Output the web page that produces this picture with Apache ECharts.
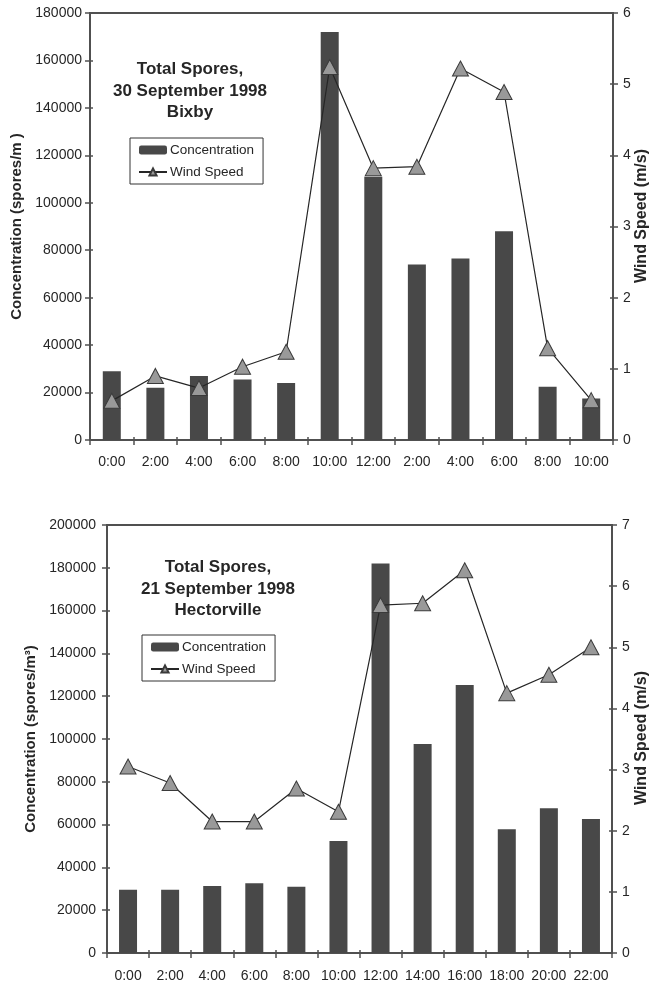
<!DOCTYPE html>
<html>
<head>
<meta charset="utf-8">
<script src="https://cdn.jsdelivr.net/npm/echarts@6/dist/echarts.min.js"></script>
<style>
  html, body { margin: 0; padding: 0; background: #fff; }
  #chart { width: 650px; height: 985px; }
</style>
</head>
<body>
<div id="chart"></div>
<script>
// Bixby, 30 September 1998
const bixbyHours = ['0:00', '2:00', '4:00', '6:00', '8:00', '10:00', '12:00', '2:00', '4:00', '6:00', '8:00', '10:00'];
const bixbyConcentration = [29000, 22000, 27000, 25500, 24000, 172000, 111000, 74000, 76500, 88000, 22500, 17500];
const bixbyWind = [0.55, 0.9, 0.73, 1.03, 1.24, 5.24, 3.82, 3.84, 5.22, 4.89, 1.29, 0.56];

// Hectorville, 21 September 1998
const hectHours = ['0:00', '2:00', '4:00', '6:00', '8:00', '10:00', '12:00', '14:00', '16:00', '18:00', '20:00', '22:00'];
const hectConcentration = [29500, 29500, 31300, 32600, 31000, 52300, 182000, 97700, 125200, 57800, 67600, 62600];
const hectWind = [3.05, 2.78, 2.15, 2.15, 2.69, 2.31, 5.69, 5.72, 6.26, 4.25, 4.55, 5.0];

const FONT = '"Liberation Sans", Arial, Helvetica, sans-serif';
const INK = '#262626';
const AXIS = '#505050';
const BAR = '#484848';

const chart = echarts.init(document.getElementById('chart'), null, { renderer: 'canvas' });

function valueAxis(grid, pos, max, interval, name, gap, margin) {
  return {
    type: 'value', gridIndex: grid, position: pos, min: 0, max: max, interval: interval,
    name: name, nameLocation: 'middle', nameGap: gap, nameRotate: 90,
    nameTextStyle: { fontFamily: FONT, fontWeight: 'bold', fontSize: 15, color: INK },
    axisLine: { show: true, lineStyle: { color: AXIS, width: 2 } },
    axisTick: { show: true, length: 5, lineStyle: { color: AXIS, width: 1.5 } },
    axisLabel: { fontFamily: FONT, fontSize: 14, color: INK, margin: margin, formatter: v => String(v) },
    splitLine: { show: false }
  };
}

// second copy of a value axis that only draws the inner half of each tick
function innerTicks(grid, pos, max, interval) {
  return {
    type: 'value', gridIndex: grid, position: pos, min: 0, max: max, interval: interval,
    axisLine: { show: false },
    axisTick: { show: true, inside: true, length: 3, lineStyle: { color: AXIS, width: 1.5 } },
    axisLabel: { show: false },
    splitLine: { show: false }
  };
}

function catAxis(grid, data, margin) {
  return {
    type: 'category', gridIndex: grid, data: data, boundaryGap: true,
    axisLine: { show: true, onZero: false, lineStyle: { color: AXIS, width: 2 } },
    axisTick: { show: true, length: 5, alignWithLabel: false, lineStyle: { color: AXIS, width: 1.5 } },
    axisLabel: { fontFamily: FONT, fontSize: 14, color: INK, margin: margin, interval: 0 }
  };
}

function catInnerTicks(grid, data) {
  return {
    type: 'category', gridIndex: grid, data: data, boundaryGap: true, position: 'bottom',
    axisLine: { show: false, onZero: false },
    axisTick: { show: true, inside: true, length: 3, lineStyle: { color: AXIS, width: 1.5 } },
    axisLabel: { show: false }
  };
}

function barSeries(x, y, data) {
  return {
    name: 'Concentration', type: 'bar', xAxisIndex: x, yAxisIndex: y, data: data,
    barWidth: 18, itemStyle: { color: BAR }, z: 2
  };
}

function lineSeries(x, y, data) {
  return {
    name: 'Wind Speed', type: 'line', xAxisIndex: x, yAxisIndex: y, data: data,
    symbol: 'triangle', symbolSize: [16, 15],
    lineStyle: { color: INK, width: 1.2 },
    itemStyle: { color: '#999999', borderColor: '#3a3a3a', borderWidth: 1 },
    z: 3
  };
}

function legendBox(left, top) {
  return {
    data: ['Concentration', 'Wind Speed'],
    orient: 'vertical', left: left, top: top,
    itemWidth: 28, itemHeight: 9, itemGap: 8,
    borderColor: '#333', borderWidth: 1, padding: [5, 9, 5, 8],
    textStyle: { fontFamily: FONT, fontSize: 13.5, color: INK, padding: [0, 0, 0, -2] },
    selectedMode: false
  };
}

function heading(x, y, text) {
  return {
    type: 'text', x: x, y: y,
    style: { text: text, font: 'bold 17px ' + FONT, fill: INK, align: 'center', lineHeight: 21.5 }
  };
}

// right-hand axis title, read bottom to top
function sideTitle(x, y, text) {
  return {
    type: 'text', x: x, y: y, rotation: Math.PI / 2,
    style: { text: text, font: 'bold 16px ' + FONT, fill: INK, align: 'center', verticalAlign: 'middle' }
  };
}

chart.setOption({
  animation: false,
  backgroundColor: '#fff',
  grid: [
    { left: 90, right: 37, top: 13, height: 427, show: true, borderColor: AXIS, borderWidth: 2, backgroundColor: 'transparent', containLabel: false, outerBoundsMode: 'none' },
    { left: 107, right: 38, top: 525, height: 428, show: true, borderColor: AXIS, borderWidth: 2, backgroundColor: 'transparent', containLabel: false, outerBoundsMode: 'none' }
  ],
  xAxis: [catAxis(0, bixbyHours, 15), catAxis(1, hectHours, 16), catInnerTicks(0, bixbyHours), catInnerTicks(1, hectHours)],
  yAxis: [
    valueAxis(0, 'left', 180000, 20000, 'Concentration (spores/m )', 66, 8),
    valueAxis(0, 'right', 6, 1, '', 20, 10),
    valueAxis(1, 'left', 200000, 20000, 'Concentration (spores/m³)', 69, 11),
    valueAxis(1, 'right', 7, 1, '', 20, 10),
    innerTicks(0, 'left', 180000, 20000),
    innerTicks(0, 'right', 6, 1),
    innerTicks(1, 'left', 200000, 20000),
    innerTicks(1, 'right', 7, 1)
  ],
  legend: [legendBox(130, 138), legendBox(142, 635)],
  series: [
    barSeries(0, 0, bixbyConcentration),
    lineSeries(0, 1, bixbyWind),
    barSeries(1, 2, hectConcentration),
    lineSeries(1, 3, hectWind)
  ],
  graphic: [
    heading(190, 59, 'Total Spores,\n30 September 1998\nBixby'),
    heading(218, 557, 'Total Spores,\n21 September 1998\nHectorville'),
    sideTitle(642, 216, 'Wind Speed (m/s)'),
    sideTitle(642, 738, 'Wind Speed (m/s)')
  ]
});
</script>
</body>
</html>
